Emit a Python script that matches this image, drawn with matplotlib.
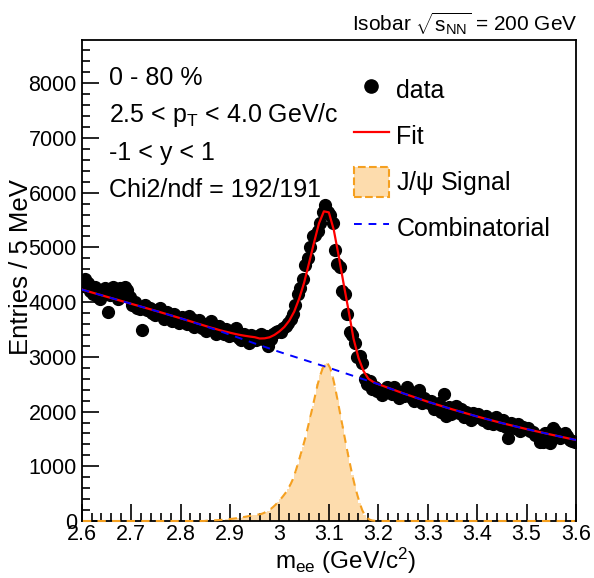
import numpy as np
import matplotlib
matplotlib.use("Agg")
import matplotlib.pyplot as plt
from matplotlib.lines import Line2D
from matplotlib.patches import Patch
from matplotlib.ticker import MultipleLocator

plt.rcParams['font.family'] = ['Liberation Sans', 'DejaVu Sans']
plt.rcParams['mathtext.fontset'] = 'custom'
plt.rcParams['mathtext.rm'] = 'Liberation Sans'
plt.rcParams['mathtext.it'] = 'Liberation Sans'

# invariant mass histogram, 5 MeV bins from 2.6 to 3.6 GeV/c^2
m_lo, m_hi, n_bins = 2.6, 3.6, 200

counts = [
    4300, 4420, 4350, 4200, 4150, 4280, 4100, 4050, 4180, 4250, 3820, 4130, 4280, 4200, 4050, 4260, 4150, 4280, 4230, 4100,
    3950, 4000, 3900, 3880, 3490, 3950, 3850, 3900, 3800, 3760, 3850, 3900, 3780, 3700, 3820, 3750, 3650, 3780, 3700, 3620,
    3720, 3650, 3600, 3750, 3700, 3550, 3600, 3680, 3520, 3600, 3480, 3550, 3650, 3500, 3420, 3560, 3480, 3420, 3500, 3380,
    3450, 3400, 3520, 3350, 3300, 3420, 3380, 3250, 3400, 3350, 3300, 3380, 3420, 3330, 3380, 3200, 3330, 3410, 3450, 3480,
    3450, 3520, 3560, 3620, 3700, 3780, 3950, 4150, 4250, 4420, 4680, 4800, 5000, 5200, 5230, 5300, 5450, 5650, 5780, 5650,
    5600, 5450, 4950, 4700, 4650, 4200, 4150, 3780, 3450, 3400, 3250, 3000, 3020, 2880, 2600, 2500, 2550, 2420, 2450, 2380,
    2400, 2300, 2350, 2450, 2380, 2320, 2450, 2300, 2250, 2350, 2280, 2450, 2380, 2250, 2200, 2320, 2400, 2150, 2250, 2200,
    2150, 2200, 2050, 2100, 2150, 2000, 2330, 1920, 2080, 1950, 2050, 2100, 1980, 2050, 1900, 2000, 1950, 1850, 1980, 1900,
    1950, 1900, 1850, 1920, 1800, 1870, 1780, 1900, 1820, 1760, 1850, 1720, 1520, 1800, 1750, 1700, 1780, 1650, 1720, 1680,
    1700, 1650, 1620, 1580, 1550, 1440, 1450, 1600, 1560, 1430, 1700, 1650, 1580, 1520, 1560, 1600, 1550, 1480, 1470, 1450,
]

# J/psi signal shape, bins starting at 2.8525 (bin index 50)
sig_first_bin = 50
signal_vals = [
    5, 7, 9, 11, 14, 17, 20, 24, 28, 33,
    38, 44, 50, 57, 64, 72, 80, 89, 98, 106,
    112, 117, 126, 143, 165, 190, 220, 258, 300, 350,
    400, 455, 515, 590, 670, 770, 900, 1050, 1200, 1360,
    1520, 1710, 1900, 2100, 2300, 2500, 2660, 2790, 2870, 2880,
    2800, 2650, 2450, 2220, 1980, 1740, 1500, 1270, 1050, 840,
    650, 480, 330, 200, 110, 55, 25, 10, 4, 1,
]

# combinatorial background every 50 MeV
bkg_mass = [2.60, 2.65, 2.70, 2.75, 2.80, 2.85, 2.90, 2.95, 3.00, 3.05, 3.10,
            3.15, 3.20, 3.25, 3.30, 3.35, 3.40, 3.45, 3.50, 3.55, 3.60]
bkg_vals = [4230, 4100, 3970, 3840, 3705, 3560, 3405, 3245, 3090, 2945, 2800,
            2650, 2500, 2335, 2180, 2040, 1910, 1790, 1680, 1578, 1480]

# total fit in the peak region, every 10 MeV from 2.85 to 3.20
fit_peak_mass = [2.85, 2.86, 2.87, 2.88, 2.89, 2.90, 2.91, 2.92, 2.93, 2.94, 2.95,
                 2.96, 2.97, 2.98, 2.99, 3.00, 3.01, 3.02, 3.03, 3.04, 3.05,
                 3.06, 3.07, 3.08, 3.09, 3.10, 3.11, 3.12, 3.13, 3.14, 3.15,
                 3.16, 3.17, 3.18, 3.19, 3.20]
fit_peak_vals = [3566, 3538, 3513, 3486, 3463, 3441, 3420, 3401, 3385, 3371, 3359,
                 3335, 3338, 3357, 3401, 3465, 3546, 3662, 3828, 4064, 4355,
                 4716, 5087, 5438, 5659, 5640, 5320, 4840, 4330, 3840, 3330,
                 2980, 2745, 2600, 2540, 2501]

info_lines = ['0 - 80 %', r'2.5 < p$_{\rm T}$ < 4.0 GeV/c', '-1 < y < 1', 'Chi2/ndf = 192/191']

bw = (m_hi - m_lo) / n_bins
centers = m_lo + bw * (np.arange(n_bins) + 0.5)
counts = np.array(counts, dtype=float)
signal = np.zeros(n_bins)
signal[sig_first_bin:sig_first_bin + len(signal_vals)] = signal_vals

# red fit = background outside the peak window, fitted values inside it
bm = np.array(bkg_mass)
bv = np.array(bkg_vals)
left = bm < fit_peak_mass[0] - 1e-6
right = bm > fit_peak_mass[-1] + 1e-6
fit_x = np.concatenate([bm[left], fit_peak_mass, bm[right]])
fit_y = np.concatenate([bv[left], fit_peak_vals, bv[right]])

fig = plt.figure(figsize=(5.94, 5.78), dpi=100)
ax = fig.add_axes([0.1375, 0.0986, 0.8322, 0.8322])

sig_fill = '#fddcad'
sig_line = '#f5a020'
ax.fill_between(centers, 0, signal, step='mid', color=sig_fill, lw=0, zorder=1)
ax.plot(centers, signal, color=sig_line, lw=1.5, ls=(0, (4, 3)), zorder=6, clip_on=False)

ax.errorbar(centers, counts, yerr=np.sqrt(counts), fmt='o', color='black', ms=8.5,
            ecolor='blue', elinewidth=1.0, capsize=0, zorder=3)

ax.plot(fit_x, fit_y, color='red', lw=1.6, zorder=4)
ax.plot(bm, bv, color='blue', lw=1.4, ls=(0, (4, 3.5)), zorder=5)

ax.set_xlim(m_lo, m_hi)
ax.set_ylim(0, 8790)
ax.xaxis.set_major_locator(MultipleLocator(0.1))
ax.xaxis.set_minor_locator(MultipleLocator(0.02))
ax.yaxis.set_major_locator(MultipleLocator(1000))
ax.yaxis.set_minor_locator(MultipleLocator(200))
ax.xaxis.set_major_formatter(plt.FuncFormatter(lambda v, p: f'{v:g}'))
ax.tick_params(which='both', direction='in', top=False, right=False, labelsize=15.5, width=1.2)
ax.tick_params(which='major', length=12)
ax.tick_params(which='minor', length=6)
ax.tick_params(axis='x', pad=2)
for sp in ax.spines.values():
    sp.set_linewidth(1.3)

ax.set_xlabel(r'm$_{\rm ee}$ (GeV/c$^2$)', fontsize=17.5)
ax.xaxis.set_label_coords(0.533, -0.052)
ax.set_ylabel('Entries / 5 MeV', fontsize=18.5)
ax.yaxis.set_label_coords(-0.098, 0.527)

fig.text(0.972, 0.96, r'Isobar $\sqrt{\rm s_{NN}}$ = 200 GeV', ha='right', va='center', fontsize=15)

for i, s in enumerate(info_lines):
    ax.text(0.055, 0.922 - i * 0.078, s, transform=ax.transAxes, fontsize=18, va='center')

handles = [
    Line2D([], [], marker='o', color='black', ls='none', ms=9.5),
    Line2D([], [], color='red', lw=1.6),
    Patch(facecolor=sig_fill, edgecolor=sig_line, ls='--', lw=1.5),
    Line2D([], [], color='blue', lw=1.4, ls=(0, (4, 3.5))),
]
labels = ['data', 'Fit', r'J/$\psi$ Signal', 'Combinatorial']
ax.legend(handles, labels, loc='upper left', bbox_to_anchor=(0.505, 0.975), frameon=False,
          fontsize=18, handlelength=1.4, handleheight=1.5, labelspacing=0.62, handletextpad=0.3)

fig.savefig('out.png', dpi=100)
